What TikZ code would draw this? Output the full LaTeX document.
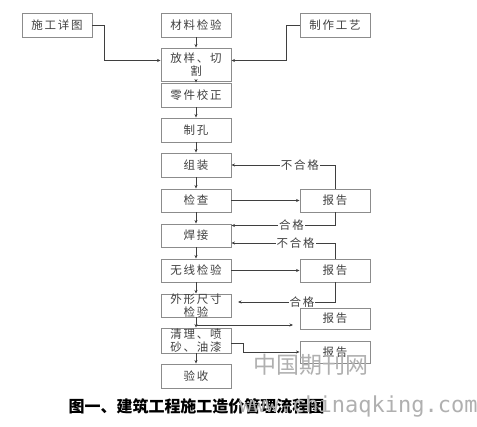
\documentclass[tikz,border=0pt]{standalone}
\usepackage{fontspec}
\usetikzlibrary{arrows.meta,positioning,shadows}
\newfontfamily\cjk[LetterSpace=15]{Noto Sans CJK SC}
\newfontfamily\capfont{Noto Sans CJK SC}
\newfontfamily\markfont{DejaVu Sans Mono}
\definecolor{flowLine}{HTML}{3F3F3F}
\definecolor{flowBorder}{HTML}{8C8C8C}
\definecolor{flowText}{HTML}{404040}
\definecolor{markGray}{HTML}{B0B0B0}
\tikzset{
  flowBox/.style={
    draw=flowBorder,
    line width=0.9pt,
    fill=white,
    minimum width=70pt,
    minimum height=24pt,
    inner sep=0pt,
    align=center,
    text=flowText,
    font=\cjk\fontsize{11.5}{12.5}\selectfont,
    drop shadow={shadow xshift=0.8pt, shadow yshift=-0.8pt, fill=black!60, opacity=0.6}
  },
  flowArrow/.style={-{Stealth[length=3.5pt,width=3pt]}, line width=0.8pt, flowLine},
  loopLabel/.style={
    fill=white,
    inner sep=1pt,
    text=flowText,
    font=\cjk\fontsize{11.5}{12}\selectfont
  },
  markText/.style={text=markGray, inner sep=0pt}
}

\begin{document}
\begin{tikzpicture}[x=1pt,y=-1pt]
  \useasboundingbox (0,0) rectangle (477,427);

  % top row
  \node[flowBox] (xiangtu) at (57,25) {施工详图};
  \node[flowBox] (cailiao) at (196,25) {材料检验};
  \node[flowBox] (gongyi) at (335,25) {制作工艺};

  % main column
  \node[flowBox, minimum height=33pt] (fangyang) at (196,64.5) {放样、切\\割};
  \node[flowBox] (lingjian) at (196,95) {零件校正};
  \node[flowBox] (zhikong) at (196,130) {制孔};
  \node[flowBox] (zuzhuang) at (196,165) {组装};
  \node[flowBox, minimum height=23pt] (jiancha) at (196,200.5) {检查};
  \node[flowBox, minimum height=23pt] (hanjie) at (196,235.5) {焊接};
  \node[flowBox, minimum height=23pt] (wuxian) at (196,270.5) {无线检验};
  \node[flowBox, minimum height=23pt] (waixing) at (196,305.5) {外形尺寸\\检验};
  \node[flowBox, minimum height=25pt] (qingli) at (196,340.5) {清理、喷\\砂、油漆};
  \node[flowBox] (yanshou) at (196,376) {验收};

  % reports
  \node[flowBox, minimum height=23pt] (baogao1) at (335,200.5) {报告};
  \node[flowBox, minimum height=23pt] (baogao2) at (335,270.5) {报告};
  \node[flowBox, minimum height=21pt] (baogao3) at (335,318.5) {报告};
  \node[flowBox, minimum height=22pt] (baogao4) at (335,352) {报告};

  \draw[flowArrow] (cailiao) -- (fangyang);
  \draw[flowArrow] (xiangtu.east) -- ++(12,0) |- ([yshift=4pt]fangyang.west);
  \draw[flowArrow] (gongyi.west) -- ++(-13,0) |- ([yshift=4pt]fangyang.east);
  \draw[flowArrow] (fangyang) -- (lingjian);
  \draw[flowArrow] (lingjian) -- (zhikong);
  \draw[flowArrow] (zhikong) -- (zuzhuang);
  \draw[flowArrow] (zuzhuang) -- (jiancha);
  \draw[flowArrow] (jiancha) -- (hanjie);
  \draw[flowArrow] (hanjie) -- (wuxian);
  \draw[flowArrow] (wuxian) -- (waixing);
  \draw[flowArrow] (waixing) -- (qingli);
  \draw[flowArrow] (qingli) -- (yanshou);

  % inspection loops
  \draw[flowArrow] (jiancha) -- (baogao1);
  \draw[flowArrow] (baogao1.north) |- (zuzhuang.east)
    node[loopLabel, pos=0.67] {不合格};
  \draw[flowArrow] (baogao1.south) |- ([yshift=10pt]hanjie.east)
    node[loopLabel, pos=0.71] {合格};
  \draw[flowArrow] (wuxian) -- (baogao2);
  \draw[flowArrow] (baogao2.north) |- ([yshift=-7.5pt]hanjie.east)
    node[loopLabel, pos=0.69] {不合格};
  \coordinate (hegeEnd) at (238,302);
  \draw[flowArrow] (baogao2.south) |- (hegeEnd)
    node[loopLabel, pos=0.67] {合格};
  \coordinate (forkPt) at (196,325);
  \coordinate (reportIn) at (293,325);
  \draw[flowArrow] (forkPt) -- (reportIn);
  \draw[flowArrow] ([yshift=-2.5pt]qingli.east) -- ++(12,0) |- (baogao4.west);

  % caption
  \node[inner sep=0pt, font=\capfont\bfseries\fontsize{16}{18}\selectfont] (caption) at (196.5,406) {图一、建筑工程施工造价管理流程图};

  % watermark
  \node[markText, font=\capfont\fontsize{23}{24}\selectfont] (markCn) at (311,365) {中国期刊网};
  \node[markText, anchor=base west, font=\markfont\fontsize{22}{24}\selectfont] (markUrl) at (239,413) {www.chinaqking.com};
\end{tikzpicture}
\end{document}
